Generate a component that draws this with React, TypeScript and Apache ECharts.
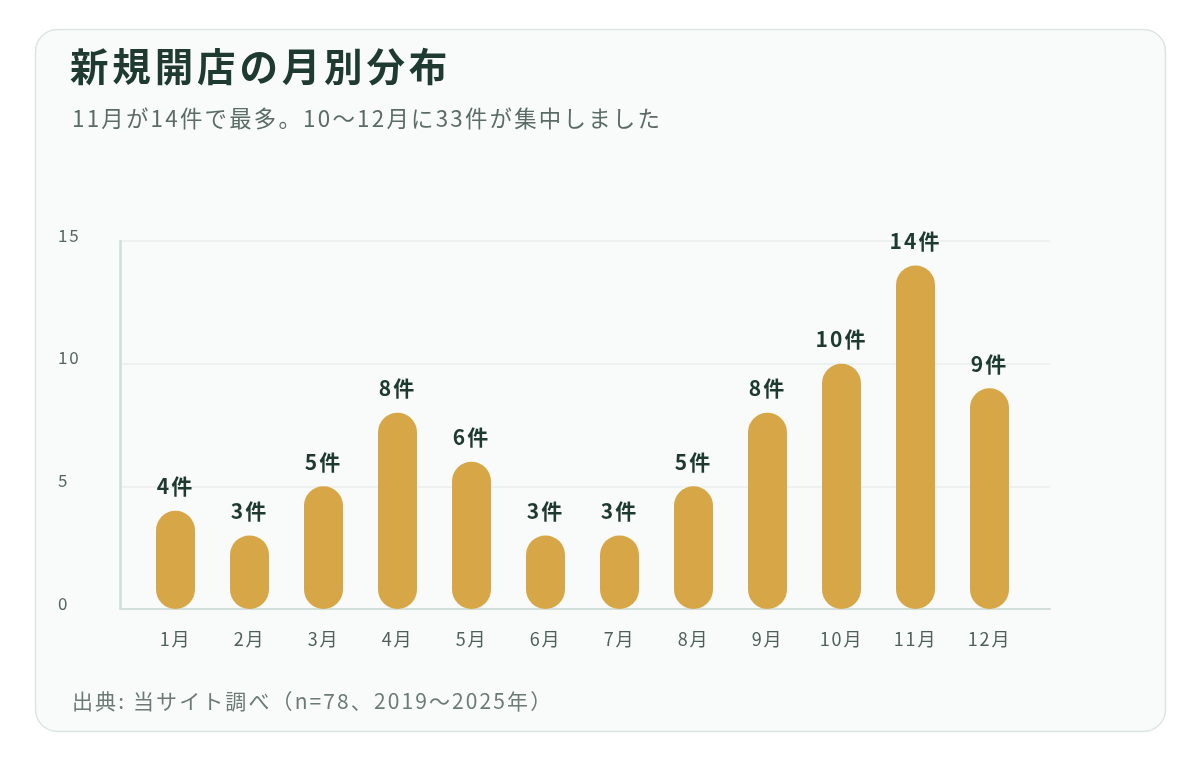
import React, { useEffect, useRef } from "react";
import * as echarts from "echarts";

const months = ["1月", "2月", "3月", "4月", "5月", "6月", "7月", "8月", "9月", "10月", "11月", "12月"];
const openings = [4, 3, 5, 8, 6, 3, 3, 5, 8, 10, 14, 9];
const yTicks = { min: 0, max: 15, interval: 5 };

const titleText = "新規開店の月別分布";
const subtitleText = "11月が14件で最多。10〜12月に33件が集中しました";
const sourceText = "出典: 当サイト調べ（n=78、2019〜2025年）";
const unit = "件";

const FONT = '"Noto Sans CJK JP", "Noto Sans", sans-serif';

export default function App() {
  const ref = useRef<HTMLDivElement>(null);
  useEffect(() => {
    if (!ref.current) return;
    const chart = echarts.init(ref.current, null, { renderer: "svg" });
    chart.setOption({
      animation: false,
      textStyle: { fontFamily: FONT },
      graphic: [
        {
          type: "rect",
          z: -10,
          shape: { x: 35.5, y: 29.5, width: 1130, height: 702, r: 22 },
          style: { fill: "#f9fbfa", stroke: "#dbe5e2", lineWidth: 1.5 },
        },
        {
          type: "text",
          left: 70,
          top: 45,
          style: { text: titleText, fill: "#1f3a30", font: `bold 38.5px ${FONT}` },
        },
        {
          type: "text",
          left: 72,
          top: 106,
          style: { text: subtitleText, fill: "#5b6b66", font: `22.4px ${FONT}` },
        },
        {
          type: "text",
          left: 72,
          top: 689,
          style: { text: sourceText, fill: "#6c7a76", font: `21px ${FONT}` },
        },
      ],
      grid: [
        { left: 120, right: 150, top: 241, bottom: 151 },
        { left: 138.5, right: 173.5, top: 241, bottom: 151 },
      ],
      xAxis: [
        {
          type: "category",
          gridIndex: 0,
          data: months,
          axisLine: { show: true, lineStyle: { color: "#d3dfdb", width: 2 } },
          axisTick: { show: false },
          axisLabel: { show: false },
          splitLine: { show: false },
        },
        {
          type: "category",
          gridIndex: 1,
          data: months,
          axisLine: { show: false },
          axisTick: { show: false },
          axisLabel: { color: "#4f5f5a", fontSize: 18, margin: 20, fontFamily: FONT },
        },
      ],
      yAxis: [
        {
          type: "value",
          gridIndex: 0,
          min: yTicks.min,
          max: yTicks.max,
          interval: yTicks.interval,
          axisLine: { show: true, lineStyle: { color: "#cfded8", width: 2.5 } },
          axisTick: { show: false },
          axisLabel: {
            color: "#56665f",
            fontSize: 17,
            margin: 62,
            align: "left",
            verticalAlign: "bottom",
            lineHeight: 14,
            fontFamily: FONT,
          },
          splitLine: { show: true, lineStyle: { color: "#e9efed", width: 1.5 } },
        },
        {
          type: "value",
          gridIndex: 1,
          min: yTicks.min,
          max: yTicks.max,
          interval: yTicks.interval,
          show: false,
          splitLine: { show: false },
        },
      ],
      series: [
        {
          type: "bar",
          xAxisIndex: 1,
          yAxisIndex: 1,
          data: openings,
          barWidth: 39,
          itemStyle: { color: "#d7a647", borderRadius: 20 },
          label: {
            show: true,
            position: "top",
            distance: 15,
            formatter: "{c}" + unit,
            color: "#1e3a30",
            fontSize: 21,
            fontWeight: "bold",
            fontFamily: FONT,
          },
        },
      ],
    });
    return () => chart.dispose();
  }, []);
  return (
    <>
      <style>{`.chart-box svg text { letter-spacing: 0.1em; }`}</style>
      <div
        ref={ref}
        className="chart-box"
        style={{ position: "fixed", left: 0, top: 0, width: 1200, height: 760 }}
      />
    </>
  );
}
